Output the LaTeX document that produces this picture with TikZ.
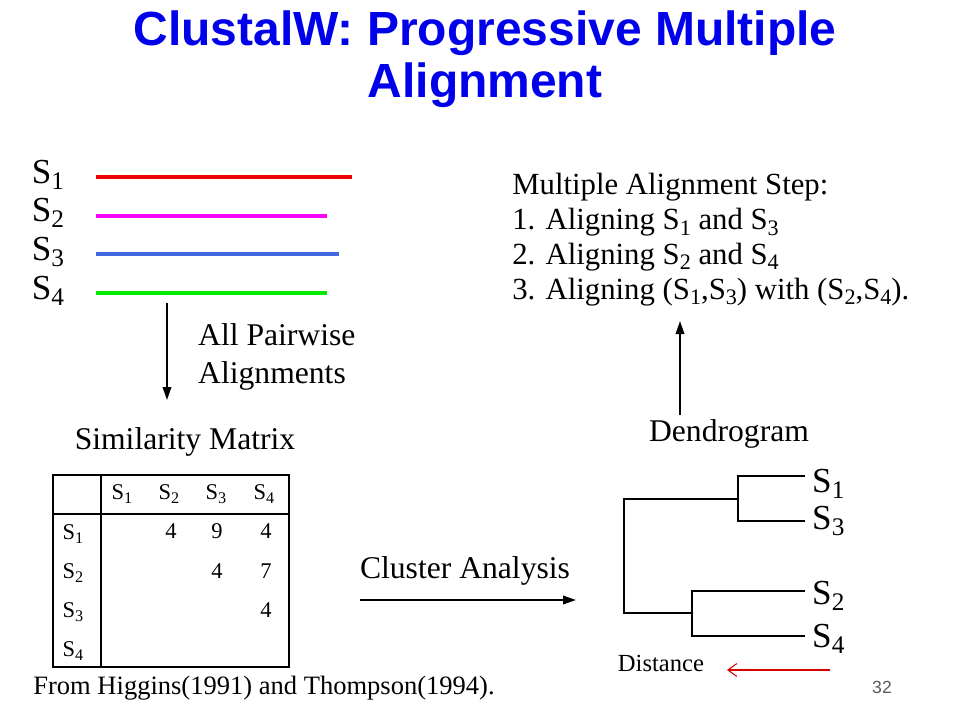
\documentclass[tikz,border=0pt]{standalone}
\usepackage{fontspec}
\setmainfont{Liberation Serif}
\setsansfont{Liberation Sans}
\usepackage{graphicx}
\usetikzlibrary{positioning, arrows.meta}

\definecolor{titleblue}{RGB}{0,0,235}
\definecolor{seqred}{RGB}{240,0,0}
\definecolor{seqmagenta}{RGB}{250,0,250}
\definecolor{seqblue}{RGB}{65,105,225}
\definecolor{seqgreen}{RGB}{0,235,0}
\definecolor{pagegray}{RGB}{90,90,90}

\newcommand{\Sq}[1]{S\raisebox{-0.4ex}{\scalebox{0.72}{#1}}}

\begin{document}
\begin{tikzpicture}[x=0.02cm,y=-0.02cm,
    txt/.style={font=\fontsize{18}{22}\selectfont},
    lbl/.style={font=\fontsize{20}{24}\selectfont},
    cell/.style={font=\fontsize{12.8}{15}\selectfont},
    seq/.style={line width=2.3pt},
    tree/.style={line width=0.8pt},
    flow/.style={-{Triangle[length=2.6mm,width=1.7mm]},line width=1.1pt}]
    \path[use as bounding box] (0,0) rectangle (960,720);

    % title
    \node[font=\sffamily\bfseries\fontsize{27.3}{29.5}\selectfont, text=titleblue, align=center] (title) at (485,59) {ClustalW: Progressive Multiple\\Alignment};

    % sequences
    \node[lbl] (s1) at (48,175) {\Sq{1}};
    \node[lbl] (s2) at (48,213) {\Sq{2}};
    \node[lbl] (s3) at (48,252) {\Sq{3}};
    \node[lbl] (s4) at (48,291) {\Sq{4}};
    \draw[seq,seqred] (96,177) -- (352,177);
    \draw[seq,seqmagenta] (96,216) -- (327,216);
    \draw[seq,seqblue] (96,254) -- (339,254);
    \draw[seq,seqgreen] (96,293) -- (327,293);

    \coordinate (pwtop) at (167,303);
    \coordinate (pwbot) at (167,400);
    \draw[flow] (pwtop) -- (pwbot);
    \node[txt, align=left, anchor=west] (pairwise) at (192,357) {All Pairwise\\Alignments};

    % similarity matrix
    \node[txt] (simlabel) at (185,442) {Similarity Matrix};
    \draw[tree] (53,475) rectangle (289,667);
    \draw[tree] (101,475) -- (101,667);
    \draw[tree] (53,514) -- (289,514);
    \foreach \i/\x in {1/122,2/169,3/216,4/264}
        \node[cell] (col\i) at (\x,494) {\Sq{\i}};
    \foreach \i/\y in {1/534,2/573,3/612,4/651}
        \node[cell] (row\i) at (73,\y) {\Sq{\i}};
    \foreach \v/\x/\y in {4/171/531,9/217/531,4/266/531,4/217/571,7/266/571,4/266/610}
        \node[cell] at (\x,\y) {\v};

    % cluster analysis
    \node[txt] (cluster) at (465,571) {Cluster Analysis};
    \coordinate (cla) at (360,600);
    \coordinate (clb) at (576,600);
    \draw[flow] (cla) -- (clb);

    % dendrogram
    \draw[tree] (805,476) -| (738,521) -- (805,521);
    \draw[tree] (738,499) -| (624,613) -- (692,613);
    \draw[tree] (805,591) -| (692,636) -- (805,636);
    \node[lbl, anchor=west] (leaf1) at (806,484) {\Sq{1}};
    \node[lbl, anchor=west] (leaf3) at (806,521) {\Sq{3}};
    \node[lbl, anchor=west] (leaf2) at (806,596) {\Sq{2}};
    \node[lbl, anchor=west] (leaf4) at (806,639) {\Sq{4}};
    \node[font=\fontsize{14}{16}\selectfont] (dist) at (661,663) {Distance};
    \coordinate (distr) at (830,670);
    \coordinate (distl) at (727,670);
    \draw[-{Straight Barb[length=1.8mm,width=2.6mm]},red!85!black,line width=0.6pt] (distr) -- (distl);

    \node[txt] (dendro) at (729,434) {Dendrogram};
    \coordinate (uptail) at (680,415);
    \coordinate (uphead) at (680,321);
    \draw[flow] (uptail) -- (uphead);

    % multiple alignment
    \node[font=\fontsize{17.5}{19.8}\selectfont, align=left, anchor=north west, inner sep=0pt] (steps) at (512,173)
        {Multiple Alignment Step:\\
         1. Aligning \Sq{1} and \Sq{3}\\
         2. Aligning \Sq{2} and \Sq{4}\\
         3. Aligning (\Sq{1},\Sq{3}) with (\Sq{2},\Sq{4}).};

    % footer
    \node[font=\fontsize{15.1}{18}\selectfont, anchor=west, inner sep=0pt] (source) at (33,688) {From Higgins(1991) and Thompson(1994).};
    \node[font=\sffamily\fontsize{10}{12}\selectfont, text=pagegray] (page) at (882,687) {32};
\end{tikzpicture}
\end{document}
